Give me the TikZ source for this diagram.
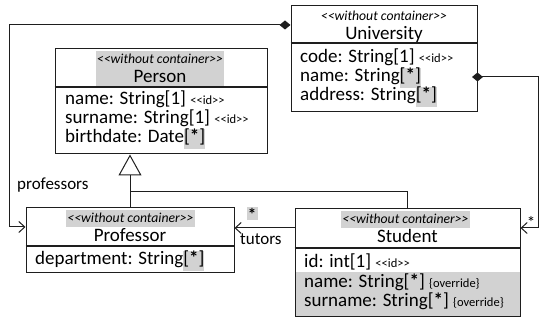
\documentclass[tikz,border=0pt]{standalone}
\usepackage{fontspec}
\setmainfont{Carlito}
\usetikzlibrary{arrows.meta,backgrounds}
\definecolor{hlgray}{RGB}{210,210,210}
\definecolor{lineblk}{RGB}{30,30,30}
\newcommand{\hlbox}[1]{{\setlength{\fboxsep}{0pt}\colorbox{hlgray}{\strut#1}}}
\newcommand{\lgu}{<\kern0pt<}
\newcommand{\rgu}{>\kern0pt>}
\newcommand{\sm}[1]{{\fontsize{12.5}{14}\selectfont #1}}
\newcommand{\stereo}{{\fontsize{13.7}{15}\selectfont\itshape \lgu without container\rgu}}
\newcommand{\st}{\hlbox{[\textbf{*}]}}
\begin{document}
\begin{tikzpicture}[x=1pt,y=-1pt,
  classbox/.style={draw=lineblk,line width=1pt,inner sep=0pt,fill=none},
  divider/.style={draw=lineblk,line width=1.7pt},
  attr/.style={anchor=base west,inner sep=0pt,font=\fontsize{19}{18.5}\selectfont},
  cname/.style={anchor=base,inner sep=0pt,font=\fontsize{19}{18.5}\selectfont},
  stnode/.style={anchor=base,inner sep=0pt},
  lbl/.style={anchor=base west,inner sep=0pt,font=\fontsize{17}{18}\selectfont},
  conn/.style={draw=lineblk,line width=1pt},
  openarr/.style={-{Straight Barb[length=6pt,width=11pt,line width=1pt]}},
  comp/.style={{Diamond[length=11pt,width=9pt]}-{Straight Barb[length=6pt,width=11pt,line width=1pt]}},
  gen/.style={-{Triangle[open,length=21pt,width=23pt,line width=1pt]}}
]
\useasboundingbox (0,0) rectangle (539,320);

% class boxes
\node[classbox,minimum width=212,minimum height=105] (person) at (161,101.5) {};
\node[classbox,minimum width=186,minimum height=106] (univ) at (384,59) {};
\node[classbox,minimum width=208,minimum height=65] (prof) at (130,240.5) {};
\node[classbox,minimum width=225,minimum height=108] (stud) at (407.5,263) {};

% highlights
\begin{pgfonlayer}{background}
\fill[hlgray] (96,51) rectangle (224,86);
\fill[hlgray] (66,210) rectangle (195,227);
\fill[hlgray] (341,211) rectangle (470,228);
\fill[hlgray] (stud.west |- 0,272) rectangle (stud.south east);
\end{pgfonlayer}

% dividers
\draw[divider] (person.west |- 0,87) -- (person.east |- 0,87);
\draw[divider] (univ.west |- 0,43) -- (univ.east |- 0,43);
\draw[divider] (prof.west |- 0,246) -- (prof.east |- 0,246);
\draw[divider] (stud.west |- 0,248) -- (stud.east |- 0,248);

% Person
\node[stnode] (personst) at (160,64) {\stereo};
\node[cname] (personname) at (160,83) {Person};
\node[attr] (pa1) at (65,105) {name: String[1] \sm{\lgu id\rgu}};
\node[attr] (pa2) at (65,124) {surname: String[1] \sm{\lgu id\rgu}};
\node[attr] (pa3) at (65,143) {birthdate: Date\st};

% University
\node[stnode] (univst) at (384,21) {\stereo};
\node[cname] (univname) at (384,40) {University};
\node[attr] (ua1) at (300,63) {code: String[1] \sm{\lgu id\rgu}};
\node[attr] (ua2) at (300,82) {name: String\st};
\node[attr] (ua3) at (300,101) {address: String\st};

% Professor
\node[stnode] (profst) at (130.5,223) {\stereo};
\node[cname] (profname) at (130,242) {Professor};
\node[attr] (pra1) at (35,265) {department: String\st};

% Student
\node[stnode] (studst) at (405.5,224) {\stereo};
\node[cname] (studname) at (407.5,243) {Student};
\node[attr] (sa1) at (304,268) {id: int[1] \sm{\lgu id\rgu}};
\node[attr] (sa2) at (304,288) {name: String[\textbf{*}] \sm{\{override\}}};
\node[attr] (sa3) at (304,307) {surname: String[\textbf{*}] \sm{\{override\}}};

% connectors
\draw[conn,comp] (univ.west |- 0,25) -- (9,25) -- (9,227) -- (prof.west |- 0,227);
\draw[conn,comp,shorten <=-5.5pt] (univ.east |- 0,77) -- (538,77) -- (538,228) -- (stud.east |- 0,228);
\draw[conn,gen] (prof.north) -- (prof.north |- person.south);
\draw[conn] (stud.north) -- (stud.north |- 0,192) -- (prof.north |- 0,192);
\draw[conn,openarr] (stud.west |- 0,228) -- (prof.east |- 0,228);

% labels
\node[lbl] (lprof) at (17,190) {professors};
\node[lbl] (ltut) at (240,245) {tutors};
\node[fill=hlgray,inner sep=0pt,minimum width=11,minimum height=13,font=\fontsize{17}{18}\selectfont\bfseries] (lstar1) at (252,214) {*};
\node[anchor=base,inner sep=0pt,font=\fontsize{17}{18}\selectfont] (lstar2) at (531,229) {*};
\end{tikzpicture}
\end{document}
